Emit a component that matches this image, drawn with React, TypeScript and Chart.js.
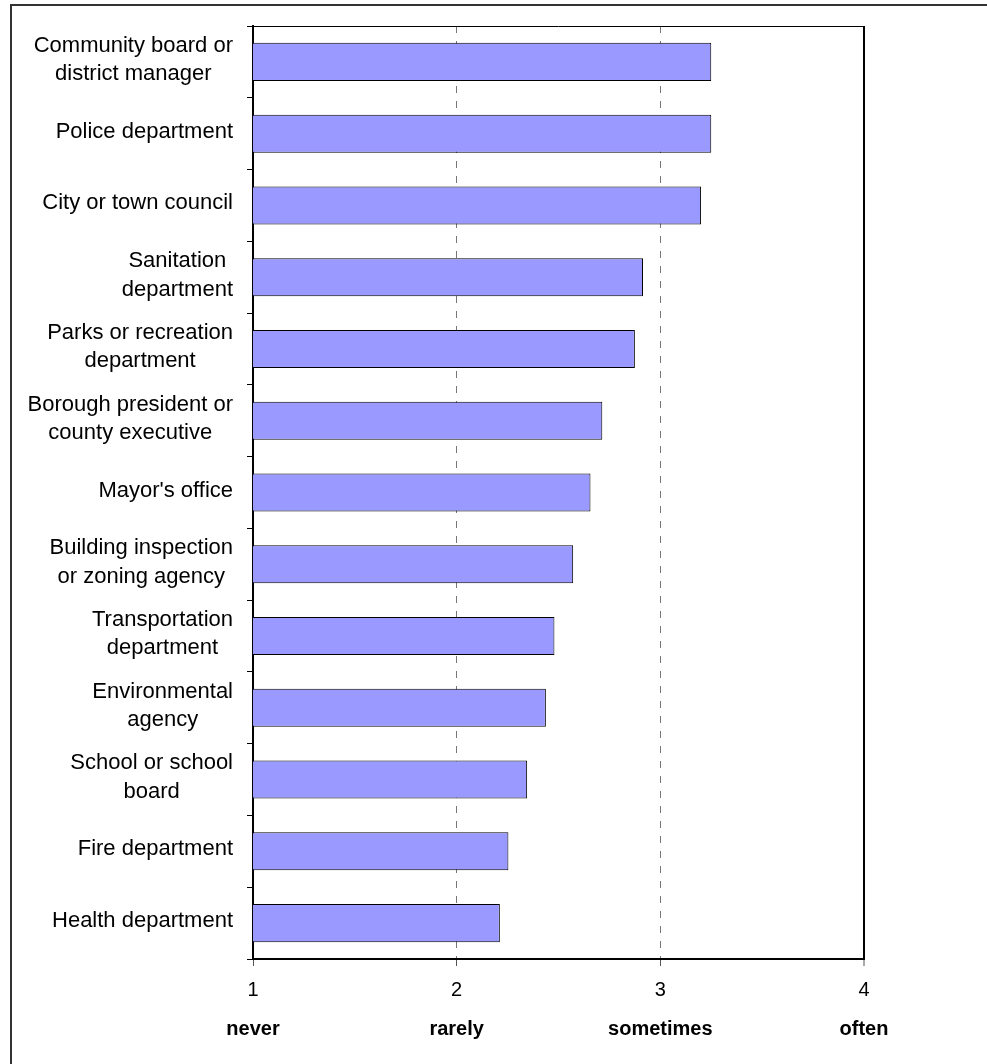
import React, { useEffect, useRef } from "react";
import { Chart, registerables } from "chart.js";

Chart.register(...registerables);

const categoryLines: string[][] = [
  ["Community board or", "district manager"],
  ["Police department"],
  ["City or town council"],
  ["Sanitation", "department"],
  ["Parks or recreation", "department"],
  ["Borough president or", "county executive"],
  ["Mayor's office"],
  ["Building inspection", "or zoning agency"],
  ["Transportation", "department"],
  ["Environmental", "agency"],
  ["School or school", "board"],
  ["Fire department"],
  ["Health department"],
];

const scoreValues: number[] = [
  3.25, 3.25, 3.2, 2.915, 2.875, 2.715, 2.657, 2.572, 2.48, 2.438, 2.346, 2.254, 2.212,
];

const scaleTicks: number[] = [1, 2, 3, 4];
const frequencyWords: string[] = ["never", "rarely", "sometimes", "often"];

const FONT = "'Liberation Sans', Arial, Helvetica, sans-serif";

const categoryLabelPlugin = {
  id: "categoryLabels",
  afterDraw(chart: any) {
    const scale = chart.scales.y;
    const ctx = chart.ctx;
    ctx.save();
    ctx.font = `22px ${FONT}`;
    ctx.fillStyle = "#000";
    ctx.textAlign = "center";
    ctx.textBaseline = "middle";
    const lineH = 28.5;
    const rightEdge = scale.right - 20;
    categoryLines.forEach((lines, i) => {
      const yc = scale.getPixelForTick(i) - 2;
      const w = Math.max(...lines.map((l) => ctx.measureText(l).width));
      const cx = rightEdge - w / 2;
      lines.forEach((line, j) => {
        ctx.fillText(line, cx, yc + (j - (lines.length - 1) / 2) * lineH);
      });
    });
    ctx.restore();
  },
};

const frameTopPlugin = {
  id: "frameTop",
  afterDatasetsDraw(chart: any) {
    const { ctx, chartArea } = chart;
    ctx.save();
    ctx.strokeStyle = "#000";
    ctx.lineWidth = 1;
    ctx.beginPath();
    ctx.moveTo(chartArea.left, Math.round(chartArea.top) + 0.5);
    ctx.lineTo(chartArea.right, Math.round(chartArea.top) + 0.5);
    ctx.stroke();
    ctx.restore();
  },
};

export default function App() {
  const canvasRef = useRef<HTMLCanvasElement | null>(null);

  useEffect(() => {
    if (!canvasRef.current) return;
    const chart = new Chart(canvasRef.current, {
      type: "bar",
      data: {
        labels: categoryLines.map((l) => l.join(" ")),
        datasets: [
          {
            data: scoreValues,
            backgroundColor: "#9999FF",
            borderColor: "#000",
            borderWidth: 1,
            borderSkipped: false,
            categoryPercentage: 1,
            barPercentage: 0.53,
          },
        ],
      },
      options: {
        indexAxis: "y",
        animation: false,
        responsive: false,
        maintainAspectRatio: false,
        layout: { padding: { left: 0, top: 26, right: 123, bottom: 0 } },
        plugins: {
          legend: { display: false },
          tooltip: { enabled: false },
        },
        scales: {
          y: {
            type: "category",
            offset: true,
            grid: {
              offset: true,
              display: true,
              drawOnChartArea: false,
              drawTicks: true,
              tickLength: 6,
              tickColor: "#000",
              tickWidth: 1,
            },
            border: { display: true, color: "#000", width: 2 },
            ticks: { display: false },
            afterFit: (s: any) => {
              s.width = 253;
            },
          },
          x: {
            type: "linear",
            position: "bottom",
            weight: 0,
            min: 1,
            max: 4,
            afterBuildTicks: (s: any) => {
              s.ticks = scaleTicks.map((v) => ({ value: v }));
            },
            grid: {
              display: true,
              drawOnChartArea: true,
              drawTicks: true,
              tickLength: 7,
              tickColor: "#555",
              tickWidth: 1,
              color: (c: any) => {
                const v = c.tick ? c.tick.value : null;
                if (v === 1) return "rgba(0,0,0,0)";
                if (v === 4) return "#000";
                return "#777";
              },
              lineWidth: (c: any) => (c.tick && c.tick.value === 4 ? 2 : 1),
            },
            border: {
              display: true,
              color: "#000",
              width: 2,
              dash: (c: any) =>
                c.tick && (c.tick.value === 2 || c.tick.value === 3) ? [7, 8] : [],
            },
            ticks: {
              padding: 12,
              color: "#000",
              font: { family: FONT, size: 20 },
              callback: (v: any) => String(v),
            },
            afterFit: (s: any) => {
              s.height = 43;
            },
          },
          x2: {
            type: "linear",
            axis: "x",
            position: "bottom",
            weight: 1,
            min: 1,
            max: 4,
            afterBuildTicks: (s: any) => {
              s.ticks = scaleTicks.map((v) => ({ value: v }));
            },
            grid: { display: false, drawTicks: false, drawOnChartArea: false },
            border: { display: false },
            ticks: {
              padding: 15,
              color: "#000",
              font: { family: FONT, size: 20, weight: "bold" },
              callback: (v: any) => frequencyWords[scaleTicks.indexOf(Number(v))] ?? "",
            },
            afterFit: (s: any) => {
              s.height = 62;
            },
          },
        },
      },
      plugins: [categoryLabelPlugin, frameTopPlugin],
    } as any);
    return () => chart.destroy();
  }, []);

  return (
    <div
      style={{
        position: "absolute",
        left: 0,
        top: 0,
        width: 987,
        height: 1064,
        background: "#fff",
        overflow: "hidden",
      }}
    >
      <div
        style={{
          position: "absolute",
          left: 10,
          top: 4,
          width: 1200,
          height: 1200,
          borderLeft: "2px solid #333",
          borderTop: "2px solid #333",
        }}
      />
      <canvas
        ref={canvasRef}
        width={987}
        height={1064}
        style={{ position: "absolute", left: 0, top: 0, width: 987, height: 1064 }}
      />
    </div>
  );
}
